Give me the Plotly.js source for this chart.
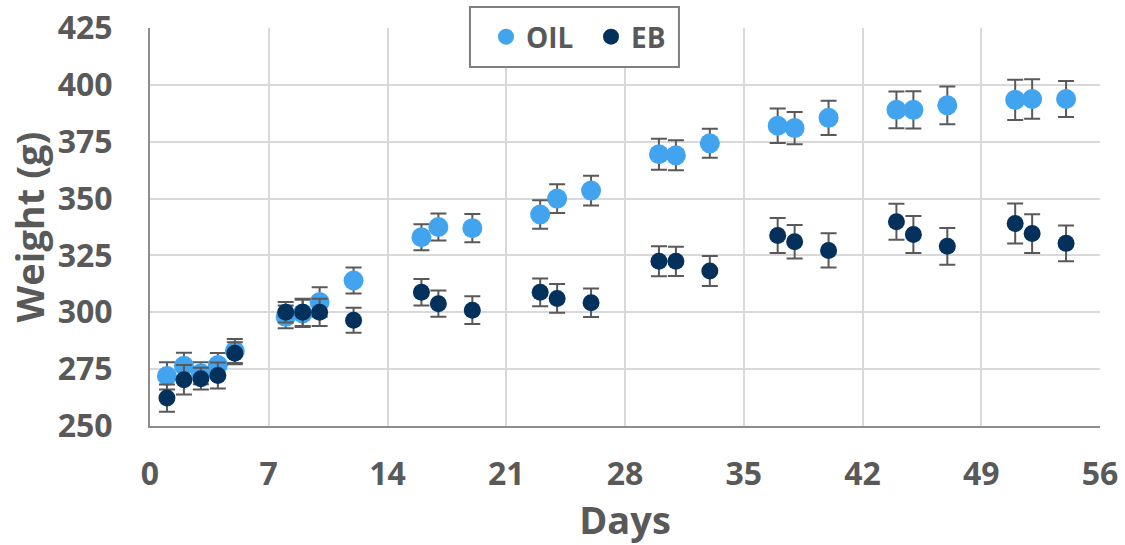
<!DOCTYPE html>
<html>
<head>
<meta charset="utf-8">
<script src="https://cdn.plot.ly/plotly-3.0.1.min.js"></script>
<style>
  html, body { margin: 0; padding: 0; background: #ffffff; }
  #chart { width: 1125px; height: 545px; }
</style>
</head>
<body>
<div id="chart"></div>
<script>
// Days of measurement
const daysOil = [1, 2, 3, 4, 5, 8, 9, 10, 12, 16, 17, 19, 23, 24, 26, 30, 31, 33, 37, 38, 40, 44, 45, 47, 51, 52, 54];
const daysEb  = [1, 2, 3, 4, 5, 8, 9, 10, 12, 16, 17, 19, 23, 24, 26, 30, 31, 33, 37, 38, 40, 44, 45, 47, 51, 52, 54];

// Mean weight (g)
const weightOil = [272, 276.5, 273.2, 276.8, 283, 298, 299.5, 304.5, 314, 333, 337.5, 337, 343, 350, 353.5, 369.5, 369, 374.3, 382, 381, 385.5, 389, 389, 391, 393.4, 393.8, 393.8];
const weightEb  = [262.3, 270.3, 270.8, 272.2, 282, 300, 300, 300, 296.5, 308.8, 303.8, 300.9, 308.8, 306.1, 304.2, 322.4, 322.4, 318.2, 333.8, 331, 327.2, 339.8, 334.2, 329, 339, 334.6, 330.3];

// Error (g)
const errOil = [6, 5.7, 4.8, 5.3, 5.3, 5, 6, 6.5, 5.7, 5.7, 5.9, 6.2, 6.3, 6.3, 6.5, 6.8, 6.6, 6.4, 7.6, 7.1, 7.5, 8.1, 8.2, 8.3, 8.8, 8.7, 7.9];
const errEb  = [6, 6.5, 4.8, 5.7, 4.8, 4.5, 6, 6, 5.5, 5.8, 5.8, 6.1, 6.1, 6.3, 6.3, 6.6, 6.4, 6.6, 7.7, 7.4, 7.5, 7.9, 8.1, 8.1, 8.8, 8.5, 7.9];

const seriesNames = ['OIL', 'EB'];
const xTickVals = [0, 7, 14, 21, 28, 35, 42, 49, 56];
const yTickVals = [250, 275, 300, 325, 350, 375, 400, 425];

const FONT = '"Open Sans", Lato, sans-serif';
const TXT = '#595959';

const errStyle = { type: 'data', visible: true, color: '#595959', thickness: 2, width: 8 };

const traces = [
  {
    x: daysOil, y: weightOil, name: seriesNames[0], type: 'scatter', mode: 'markers',
    marker: { size: 20, color: '#42a4ef' },
    error_y: Object.assign({ array: errOil }, errStyle)
  },
  {
    x: daysEb, y: weightEb, name: seriesNames[1], type: 'scatter', mode: 'markers',
    marker: { size: 17, color: '#04305c' },
    error_y: Object.assign({ array: errEb }, errStyle)
  }
];

const layout = {
  width: 1125, height: 545,
  margin: { l: 150, r: 25, t: 28, b: 119 },
  paper_bgcolor: '#ffffff', plot_bgcolor: '#ffffff',
  font: { family: FONT, color: TXT },
  showlegend: true,
  legend: {
    orientation: 'h', x: 0.3537, xanchor: 'left', y: 0.9774, yanchor: 'middle',
    bgcolor: 'rgba(0,0,0,0)', borderwidth: 0,
    font: { family: FONT, size: 28, color: TXT, weight: 'bold' },
    entrywidth: 60, entrywidthmode: 'pixels'
  },
  shapes: [
    {
      type: 'rect', xref: 'paper', yref: 'paper', layer: 'above',
      x0: 0.3368, x1: 0.5568, y0: 0.902, y1: 1.0528,
      fillcolor: '#ffffff', line: { color: '#7f7f7f', width: 2 }
    }
  ],
  xaxis: {
    range: [0, 56], tickvals: xTickVals, ticktext: xTickVals.map(String),
    showgrid: true, gridcolor: '#d9d9d9', gridwidth: 2,
    zeroline: false, showline: true, linecolor: '#8c8c8c', linewidth: 2,
    ticks: '', ticklabelstandoff: 19,
    tickfont: { family: FONT, size: 32, color: TXT, weight: 'bold' },
    title: { text: 'Days', font: { family: FONT, size: 38, color: TXT, weight: 'bold' }, standoff: 21 },
    automargin: false
  },
  yaxis: {
    range: [250, 425], tickvals: yTickVals, ticktext: yTickVals.map(String),
    showgrid: true, gridcolor: '#d9d9d9', gridwidth: 2,
    zeroline: false, showline: true, linecolor: '#8c8c8c', linewidth: 2,
    ticks: '', ticklabelstandoff: 29,
    tickfont: { family: FONT, size: 32, color: TXT, weight: 'bold' },
    title: { text: 'Weight (g)', font: { family: FONT, size: 38, color: TXT, weight: 'bold' }, standoff: 1 },
    automargin: false
  }
};

Plotly.newPlot('chart', traces, layout, { displayModeBar: false, staticPlot: true });
</script>
</body>
</html>
